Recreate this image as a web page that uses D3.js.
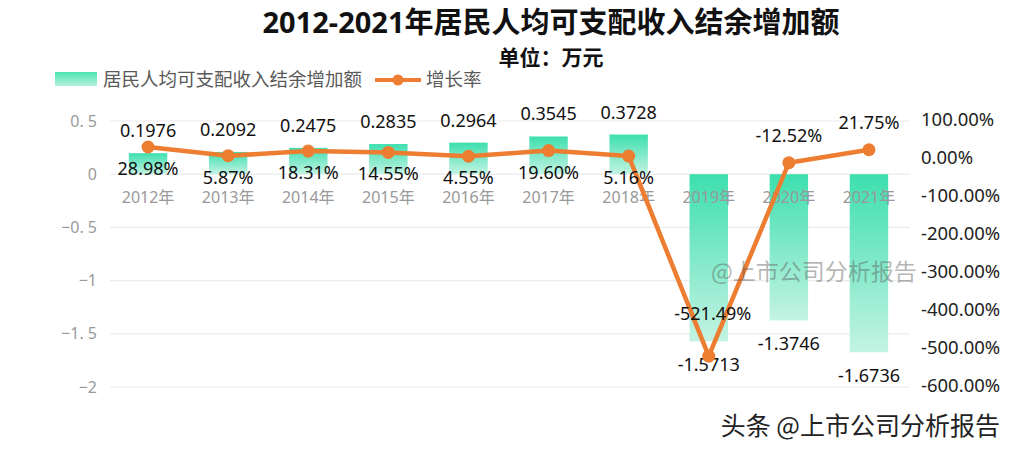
<!DOCTYPE html>
<html>
<head>
<meta charset="utf-8">
<script src="https://cdn.jsdelivr.net/npm/d3@7/dist/d3.min.js"></script>
<style>
  body { margin: 0; background: #fff; }
  svg { font-family: "Noto Sans", "Noto Sans CJK SC", sans-serif; }
</style>
</head>
<body>
<div id="chart"></div>
<script>
// data
var years = ['2012年', '2013年', '2014年', '2015年', '2016年', '2017年', '2018年', '2019年', '2020年', '2021年'];
var surplus = [0.1976, 0.2092, 0.2475, 0.2835, 0.2964, 0.3545, 0.3728, -1.5713, -1.3746, -1.6736];
var growth = [28.98, 5.87, 18.31, 14.55, 4.55, 19.60, 5.16, -521.49, -12.52, 21.75];
var growthLabelSide = ['below', 'below', 'below', 'below', 'below', 'below', 'below', 'high', 'above', 'above'];
var leftTicks = [0.5, 0, -0.5, -1, -1.5, -2];
var leftTickLabels = ['0. 5', '0', '\u22120. 5', '\u22121', '\u22121. 5', '\u22122'];
var rightTicks = [100, 0, -100, -200, -300, -400, -500, -600];

var width = 1014, height = 451;
var svg = d3.select('#chart').append('svg').attr('width', width).attr('height', height);

var x = d3.scaleBand().domain(years).range([108, 909]).paddingInner(0.52).paddingOuter(0.26);
var yL = d3.scaleLinear().domain([-2, 0.5]).range([387, 121]);
var yR = d3.scaleLinear().domain([-600, 100]).range([386, 120]);

var defs = svg.append('defs');
var grad = defs.append('linearGradient').attr('id', 'barGrad')
  .attr('x1', 0).attr('y1', 0).attr('x2', 0).attr('y2', 1);
grad.append('stop').attr('offset', '0%').attr('stop-color', '#3ddfae');
grad.append('stop').attr('offset', '100%').attr('stop-color', '#c4f3e3');
var lgGrad = defs.append('linearGradient').attr('id', 'legGrad')
  .attr('x1', 0).attr('y1', 0).attr('x2', 0).attr('y2', 1);
lgGrad.append('stop').attr('offset', '0%').attr('stop-color', '#4ce3b3');
lgGrad.append('stop').attr('offset', '100%').attr('stop-color', '#b8f1dc');

// title
svg.append('text').attr('x', 551).attr('y', 33).attr('text-anchor', 'middle')
  .style('font-size', '29px').style('font-weight', 'bold').attr('fill', '#111')
  .text('2012-2021年居民人均可支配收入结余增加额');
svg.append('text').attr('x', 551).attr('y', 65).attr('text-anchor', 'middle')
  .style('font-size', '21px').style('font-weight', 'bold').attr('fill', '#111')
  .text('单位：万元');

// legend
var leg = svg.append('g');
leg.append('rect').attr('x', 55).attr('y', 72).attr('width', 42).attr('height', 14).attr('fill', 'url(#legGrad)');
leg.append('text').attr('x', 103).attr('y', 86).style('font-size', '18.5px').attr('fill', '#595959')
  .style('font-family', '"Noto Sans CJK SC", sans-serif')
  .text('居民人均可支配收入结余增加额');
leg.append('line').attr('x1', 375).attr('x2', 421).attr('y1', 80).attr('y2', 80)
  .attr('stroke', '#ed7d31').attr('stroke-width', 4);
leg.append('circle').attr('cx', 398).attr('cy', 80).attr('r', 5.5).attr('fill', '#ed7d31');
leg.append('text').attr('x', 426).attr('y', 86).style('font-size', '18.5px').attr('fill', '#595959')
  .style('font-family', '"Noto Sans CJK SC", sans-serif')
  .text('增长率');

// grid
svg.append('g').selectAll('line').data(leftTicks).join('line')
  .attr('x1', 110).attr('x2', 910)
  .attr('y1', function(d) { return yL(d); }).attr('y2', function(d) { return yL(d); })
  .attr('stroke', '#ebebeb').attr('stroke-width', 1.2);

// left axis
var axL = svg.append('g').attr('transform', 'translate(97,0)')
  .call(d3.axisLeft(yL).tickValues(leftTicks).tickSize(0).tickPadding(0)
    .tickFormat(function(d, i) { return leftTickLabels[i]; }));
axL.select('.domain').remove();
axL.selectAll('text').style('font-size', '16px').attr('fill', '#9a9a9a')
  .style('font-family', '"Noto Sans", "DejaVu Sans", sans-serif');

// right axis
var axR = svg.append('g').attr('transform', 'translate(921,0)')
  .call(d3.axisRight(yR).tickValues(rightTicks).tickSize(0).tickPadding(0)
    .tickFormat(function(d) { return d.toFixed(2) + '%'; }));
axR.select('.domain').remove();
axR.selectAll('text').style('font-size', '18.5px').attr('fill', '#222')
  .style('font-family', '"Noto Sans", sans-serif');

// bars
svg.append('g').selectAll('rect').data(surplus).join('rect')
  .attr('x', function(d, i) { return x(years[i]); })
  .attr('width', x.bandwidth())
  .attr('y', function(d) { return yL(Math.max(0, d)); })
  .attr('height', function(d) { return Math.abs(yL(d) - yL(0)); })
  .attr('fill', 'url(#barGrad)');

// category labels
svg.append('g').selectAll('text').data(years).join('text')
  .attr('x', function(d) { return x(d) + x.bandwidth() / 2; })
  .attr('y', 197).attr('text-anchor', 'middle').attr('dominant-baseline', 'central')
  .style('font-size', '16px').style('font-family', '"Noto Sans", "Noto Sans CJK SC", sans-serif')
  .attr('fill', '#999').text(function(d) { return d; });

// bar value labels
svg.append('g').selectAll('text').data(surplus).join('text')
  .attr('x', function(d, i) { return x(years[i]) + x.bandwidth() / 2; })
  .attr('y', function(d) { return yL(d) + (d >= 0 ? -23 : 23); })
  .attr('text-anchor', 'middle').attr('dominant-baseline', 'central')
  .style('font-size', '18px').attr('fill', '#111')
  .text(function(d) { return d.toFixed(4); });

// line
var line = d3.line()
  .x(function(d, i) { return x(years[i]) + x.bandwidth() / 2; })
  .y(function(d) { return yR(d); });
svg.append('path').datum(growth).attr('d', line)
  .attr('fill', 'none').attr('stroke', '#ed7d31').attr('stroke-width', 4.5).attr('stroke-linejoin', 'round');
svg.append('g').selectAll('circle').data(growth).join('circle')
  .attr('cx', function(d, i) { return x(years[i]) + x.bandwidth() / 2; })
  .attr('cy', function(d) { return yR(d); })
  .attr('r', 6.5).attr('fill', '#ed7d31');

var sideOffset = { below: 21, above: -28, high: -43 };
svg.append('g').selectAll('text').data(growth).join('text')
  .attr('x', function(d, i) { return x(years[i]) + x.bandwidth() / 2 + (growthLabelSide[i] === 'high' ? 4 : 0); })
  .attr('y', function(d, i) { return yR(d) + sideOffset[growthLabelSide[i]]; })
  .attr('text-anchor', 'middle').attr('dominant-baseline', 'central')
  .style('font-size', '18px').attr('fill', '#111')
  .text(function(d) { return d.toFixed(2) + '%'; });

// watermarks
svg.append('text').attr('x', 814).attr('y', 270).attr('text-anchor', 'middle').attr('dominant-baseline', 'central')
  .style('font-size', '23px').style('font-family', '"Noto Sans CJK SC", sans-serif')
  .attr('fill', 'rgba(90,90,90,0.45)').text('@上市公司分析报告');
svg.append('text').attr('x', 1000).attr('y', 424).attr('text-anchor', 'end').attr('dominant-baseline', 'central')
  .style('font-size', '25px').style('font-family', '"Noto Sans CJK SC", sans-serif')
  .attr('fill', '#222').attr('stroke', '#fff').attr('stroke-width', 3)
  .attr('paint-order', 'stroke').text('头条 @上市公司分析报告');
</script>
</body>
</html>
